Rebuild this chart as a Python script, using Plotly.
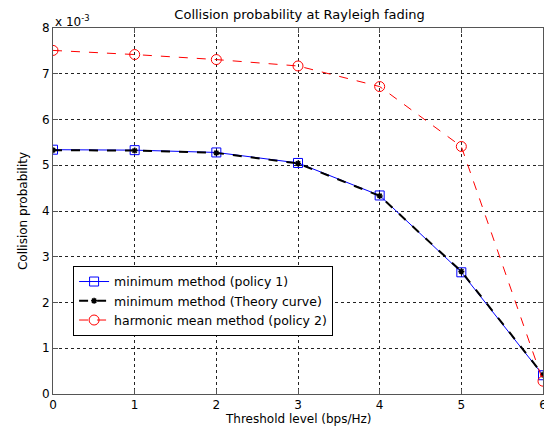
import plotly.graph_objects as go

thresholds = [0, 1, 2, 3, 4, 5, 6]
policy1_min = [5.34, 5.33, 5.28, 5.05, 4.34, 2.66, 0.41]      # x 10^-3
theory_min = [5.33, 5.32, 5.27, 5.04, 4.33, 2.68, 0.42]       # x 10^-3
policy2_harm = [7.51, 7.42, 7.31, 7.17, 6.72, 5.41, 0.28]     # x 10^-3
y_ticks = [0, 1, 2, 3, 4, 5, 6, 7, 8]
x_ticks = [0, 1, 2, 3, 4, 5, 6]

font = "DejaVu Sans, Liberation Sans, Arial, sans-serif"

fig = go.Figure()
fig.add_trace(go.Scatter(
    x=thresholds, y=policy1_min, mode="lines+markers",
    name="minimum method (policy 1)",
    line=dict(color="#0000ff", width=1),
    marker=dict(symbol="square-open", size=9, color="#0000ff", line=dict(width=1)),
))
fig.add_trace(go.Scatter(
    x=thresholds, y=theory_min, mode="lines+markers",
    name="minimum method (Theory curve)",
    line=dict(color="#000000", width=2, dash="dash"),
    marker=dict(symbol="asterisk-open", size=5, color="#000000", line=dict(width=1.5, color="#000000")),
))
fig.add_trace(go.Scatter(
    x=thresholds, y=policy2_harm, mode="lines+markers",
    name="harmonic mean method (policy 2)",
    line=dict(color="#ff0000", width=1, dash="dash"),
    marker=dict(symbol="circle-open", size=10, color="#ff0000", line=dict(width=1)),
))

axis_common = dict(
    showline=True, linecolor="#555555", linewidth=1, mirror="ticks",
    ticks="inside", ticklen=5, tickcolor="#555555",
    showgrid=True, gridcolor="#222222", griddash="dot", gridwidth=1,
    zeroline=False, automargin=False,
    tickfont=dict(family=font, size=12, color="#000"),
)

# The page body has an 8px default margin, so the figure is sized to fit the window.
fig.update_layout(
    width=544, height=421,
    margin=dict(l=45, r=9, t=20, b=35),
    paper_bgcolor="white", plot_bgcolor="white",
    font=dict(family=font, size=12, color="#000"),
    title=dict(text="Collision probability at Rayleigh fading", x=0.536, xanchor="center",
               y=1.0, yanchor="top", pad=dict(t=2, b=0),
               font=dict(family=font, size=13, color="#000")),
    xaxis=dict(range=[0, 6], tickvals=x_ticks, **axis_common),
    yaxis=dict(range=[0, 8], tickvals=y_ticks,
               title=dict(text="Collision probability", standoff=11, font=dict(size=12)),
               **axis_common),
    legend=dict(x=0.041, y=0.35, xanchor="left", yanchor="top",
                bgcolor="white", bordercolor="#000", borderwidth=1,
                font=dict(family=font, size=12.5), tracegroupgap=0, itemwidth=30),
    showlegend=True,
)
fig.add_annotation(
    text="Threshold level (bps/Hz)", xref="paper", yref="paper", x=0.5, y=-0.068,
    xanchor="center", yanchor="middle", showarrow=False,
    font=dict(family=font, size=12, color="#000"),
)
fig.add_annotation(
    text="x 10<sup>-3</sup>", xref="paper", yref="paper", x=0.0, y=1.0,
    xanchor="left", yanchor="bottom", showarrow=False,
    font=dict(family=font, size=12, color="#000"), yshift=-3,
)

fig.write_html("out.html")
